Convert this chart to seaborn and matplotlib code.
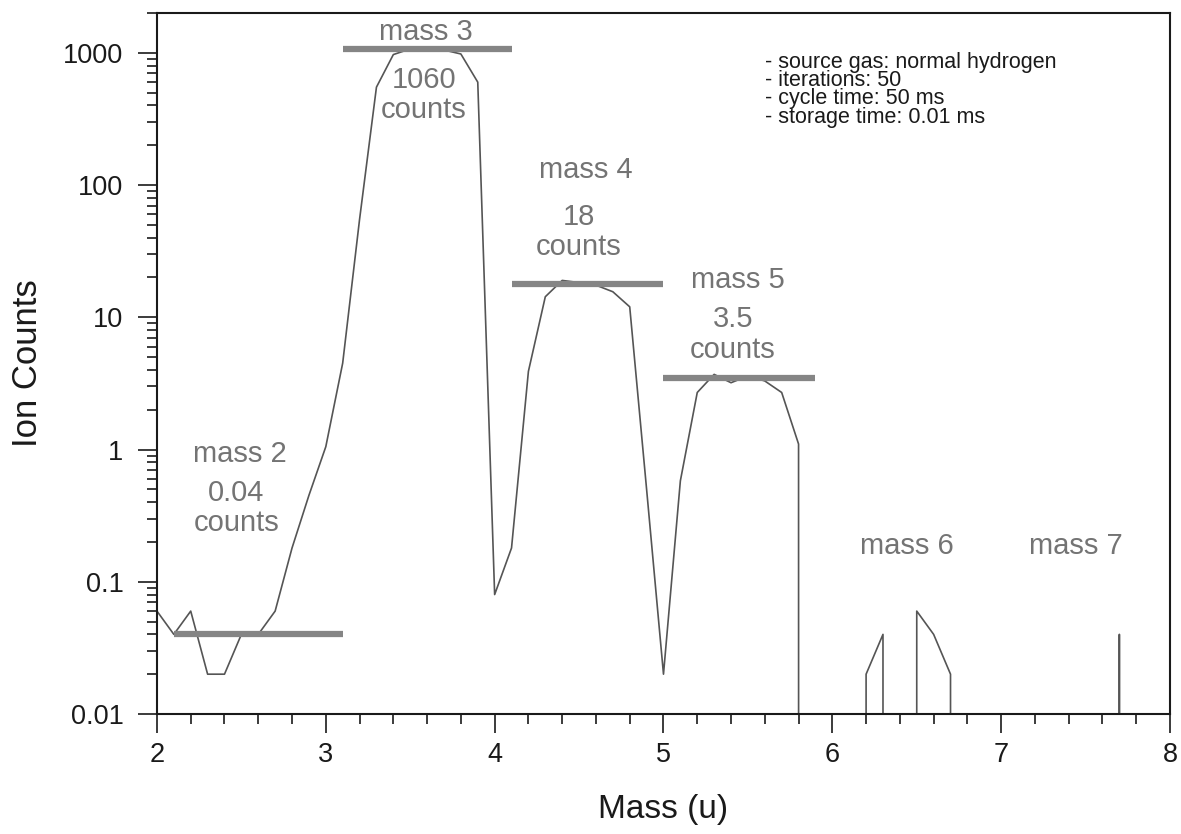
import numpy as np
import pandas as pd
import matplotlib
matplotlib.use("Agg")
import matplotlib.pyplot as plt
import seaborn as sns
from matplotlib.ticker import FixedLocator, LogLocator, MultipleLocator, NullFormatter

# ---------------- data ----------------
mass = [2.0, 2.1, 2.2, 2.3, 2.4, 2.5, 2.6, 2.7, 2.8, 2.9,
        3.0, 3.1, 3.2, 3.3, 3.4, 3.5, 3.6, 3.7, 3.8, 3.9,
        4.0, 4.1, 4.2, 4.3, 4.4, 4.5, 4.6, 4.7, 4.8, 4.9,
        5.0, 5.1, 5.2, 5.3, 5.4, 5.5, 5.6, 5.7, 5.8, 5.9,
        6.0, 6.1, 6.2, 6.3, 6.4, 6.5, 6.6, 6.7, 6.8, 6.9,
        7.0, 7.1, 7.2, 7.3, 7.4, 7.5, 7.6, 7.7, 7.8, 7.9, 8.0]
ion_counts = [0.06, 0.04, 0.06, 0.02, 0.02, 0.04, 0.04, 0.06, 0.18, 0.45,
              1.05, 4.5, 55, 550, 970, 1070, 1070, 1050, 980, 600,
              0.08, 0.18, 3.9, 14.3, 19, 18.3, 17.5, 15.6, 12, 0.5,
              0.02, 0.58, 2.7, 3.7, 3.2, 3.6, 3.3, 2.7, 1.1, 0,
              0, 0, 0.02, 0.04, 0, 0.06, 0.04, 0.02, 0, 0,
              0, 0, 0, 0, 0, 0, 0, 0.04, 0, 0, 0]

# mean level bars for each mass peak
bar_levels = [0.04, 1060, 18, 3.5]
bar_start = [2.1, 3.1, 4.1, 5.0]
bar_end = [3.1, 4.1, 5.0, 5.9]

peak_names = ["mass 2", "mass 3", "mass 4", "mass 5", "mass 6", "mass 7"]
peak_counts = ["0.04\ncounts", "1060\ncounts", "18\ncounts", "3.5\ncounts"]
info_lines = ["- source gas: normal hydrogen", "- iterations: 50",
              "- cycle time: 50 ms", "- storage time: 0.01 ms"]

ytick_vals = [0.01, 0.1, 1, 10, 100, 1000]
ytick_labels = ["0.01", "0.1", "1", "10", "100", "1000"]
xtick_vals = [2, 3, 4, 5, 6, 7, 8]

# ---------------- style ----------------
sns.set_style("white")
plt.rcParams["font.family"] = ["Liberation Sans", "DejaVu Sans"]

fig = plt.figure(figsize=(11.81, 8.34), dpi=100)
ax = fig.add_axes([0.1329, 0.1439, 0.8578, 0.8405])

df = pd.DataFrame({"mass": mass, "counts": ion_counts})
sns.lineplot(data=df, x="mass", y="counts", ax=ax, color="#555555",
             linewidth=1.2, estimator=None, sort=False, legend=False)

ax.hlines(bar_levels, bar_start, bar_end, colors="#858585", linewidth=4.5, zorder=3)

ax.set_yscale("log")
ax.set_ylim(0.01, 2000)
ax.set_xlim(2, 8)

ax.yaxis.set_major_locator(FixedLocator(ytick_vals))
ax.set_yticklabels(ytick_labels)
ax.yaxis.set_minor_locator(LogLocator(base=10, subs=np.arange(2, 10)))
ax.yaxis.set_minor_formatter(NullFormatter())
ax.xaxis.set_major_locator(FixedLocator(xtick_vals))
ax.xaxis.set_minor_locator(MultipleLocator(0.2))

ax.tick_params(axis="both", which="both", bottom=True, left=True, top=False, right=False)
ax.tick_params(axis="both", which="major", direction="out", length=14, width=1.2,
               labelsize=19.5, colors="#1a1a1a")
ax.tick_params(axis="both", which="minor", direction="out", length=7, width=1.2,
               colors="#1a1a1a")
ax.tick_params(axis="y", which="major", pad=10)
ax.tick_params(axis="x", which="major", pad=6)

for s in ax.spines.values():
    s.set_linewidth(1.5)
    s.set_color("#1a1a1a")

ax.set_xlabel("Mass (u)", fontsize=24, color="#1a1a1a", labelpad=19)
ax.set_ylabel("Ion Counts", fontsize=25, color="#1a1a1a", labelpad=14)

# annotations
ann_color = "#747474"
ann_size = 21
name_pos = [(2.49, 0.93), (3.59, 1440), (4.54, 130), (5.44, 19), (6.44, 0.187), (7.44, 0.187)]
for name, (x, y) in zip(peak_names, name_pos):
    ax.text(x, y, name, ha="center", va="center", fontsize=ann_size, color=ann_color)

count_pos = [(2.47, 0.36), (3.58, 480), (4.50, 44), (5.41, 7.4)]
for txt, (x, y) in zip(peak_counts, count_pos):
    ax.text(x, y, txt, ha="center", va="center", fontsize=ann_size, color=ann_color,
            linespacing=1.1)

ax.text(0.600, 0.945, "\n".join(info_lines), transform=ax.transAxes, ha="left", va="top",
        fontsize=15.5, color="#1a1a1a", linespacing=0.84)

fig.savefig("out.png", dpi=100)
